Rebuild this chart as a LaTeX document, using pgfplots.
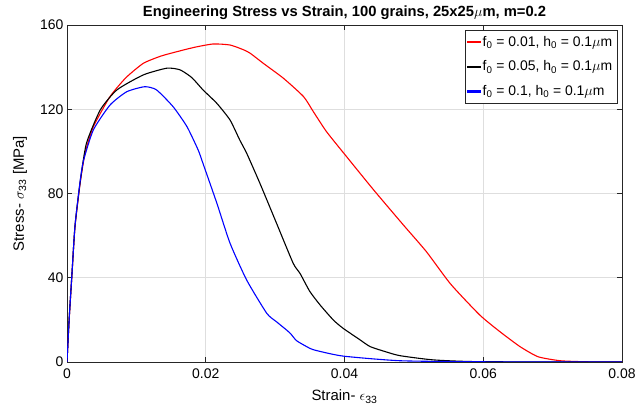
\documentclass[border=0pt]{standalone}
\usepackage{fontspec}
\setmainfont{Liberation Sans}
\usepackage{pgfplots}
\pgfplotsset{compat=1.18}
\definecolor{axgray}{gray}{0.15}
\definecolor{gridgray}{gray}{0.87}
\definecolor{mred}{rgb}{1,0,0}
\definecolor{mblue}{rgb}{0,0,1}
\begin{document}
\begin{tikzpicture}
\path[use as bounding box] (-67bp,-53bp) rectangle (568bp,362bp);
\begin{axis}[
  at={(0,0)}, anchor=south west,
  scale only axis, width=555bp, height=337bp,
  xmin=0, xmax=0.08, ymin=0, ymax=160,
  scaled x ticks=false, scaled y ticks=false,
  xtick={0,0.02,0.04,0.06,0.08},
  xticklabels={0,0.02,0.04,0.06,0.08},
  ytick={0,40,80,120,160},
  yticklabels={0,40,80,120,160},
  grid=major,
  major grid style={gridgray, line width=0.6bp},
  axis line style={axgray, line width=0.6bp},
  tick style={axgray, line width=0.6bp},
  tick align=inside, tick pos=both, major tick length=5bp,
  ticklabel style={font=\fontsize{14}{14}\selectfont, text=black},
  xticklabel style={yshift=-3bp},
  /pgf/number format/assume math mode=true,
  title={\textbf{Engineering Stress vs Strain, 100 grains, 25x25$\mu$m, m=0.2}},
  every axis title/.style={at={(axis description cs:0.5,1.037)}, anchor=center, font=\fontsize{14.8}{15}\selectfont},
  xlabel={Strain- $\epsilon$\textsubscript{33}},
  ylabel={Stress- $\sigma$\textsubscript{33} [MPa]},
  every axis x label/.style={at={(axis description cs:0.5,-0.103)}, anchor=center, font=\fontsize{15}{15}\selectfont},
  every axis y label/.style={at={(axis description cs:-0.0847,0.5)}, anchor=center, rotate=90, font=\fontsize{15}{15}\selectfont},
  legend style={at={(0.991,0.985)}, anchor=north east, draw=axgray,
    font=\fontsize{14}{14}\selectfont, inner xsep=2.5bp, inner ysep=4bp, row sep=9bp, cells={anchor=west}},
  legend image code/.code={\fill[#1] (0bp,-0.6bp) rectangle (13bp,0.6bp);},
]
\addlegendimage{color=mred}
\addlegendentry{f\textsubscript{0} = 0.01, h\textsubscript{0} = 0.1$\mu$m}
\addlegendimage{color=black}
\addlegendentry{f\textsubscript{0} = 0.05, h\textsubscript{0} = 0.1$\mu$m}
\addlegendimage{color=mblue}
\addlegendentry{f\textsubscript{0} = 0.1, h\textsubscript{0} = 0.1$\mu$m}
\addplot[color=mred, line width=1.1bp, smooth, tension=0.35, forget plot] coordinates {
(0,0) (0.00033,21) (0.00068,39.5) (0.00115,64) (0.0019,85) (0.0026,99) (0.0038,111.7)
(0.0062,126) (0.0085,135) (0.011,141.8) (0.0135,145.2) (0.0158,147.3) (0.0185,149.5)
(0.0211,151) (0.0235,150.5) (0.0254,148.3) (0.0264,146.6) (0.0283,141.8) (0.0312,134.7)
(0.0341,126) (0.0355,118.9) (0.0374,109.4) (0.0401,98.3) (0.0442,81.7) (0.0485,65)
(0.0518,52.4) (0.0553,37) (0.0595,22.3) (0.0624,14.4) (0.0653,7.3) (0.0679,2.5)
(0.0711,0.6) (0.075,0.1) (0.08,0)
};
\addplot[color=black, line width=1.1bp, smooth, tension=0.35, forget plot] coordinates {
(0,0) (0.00033,21.5) (0.00068,40) (0.00115,64.5) (0.0019,85.5) (0.0028,103.8) (0.0048,119.7)
(0.0072,129.2) (0.011,136.3) (0.0144,139.5) (0.0163,138.7) (0.018,135) (0.0196,129.2)
(0.0216,122.8) (0.0235,114.9) (0.0249,105.4) (0.0259,99.1) (0.0278,84.9) (0.0302,65.9)
(0.0326,46.9) (0.0336,42) (0.035,33.5) (0.0365,27) (0.0384,19.9) (0.0398,16)
(0.0422,10.6) (0.0437,7.3) (0.046,4.8) (0.048,3) (0.0528,1) (0.0595,0.15) (0.08,0)
};
\addplot[color=mblue, line width=1.1bp, smooth, tension=0.35, forget plot] coordinates {
(0,0) (0.00033,21.5) (0.00068,40) (0.00115,64.5) (0.0019,86) (0.0024,95.9) (0.0038,110.2)
(0.0062,122) (0.0086,128.3) (0.0112,130.7) (0.0129,129.2) (0.0153,121.2) (0.0173,111.7)
(0.0189,100.7) (0.0196,94.3) (0.0216,75.4) (0.0235,56.4) (0.0259,38.9) (0.0288,23.1)
(0.0302,19.1) (0.0321,13.9) (0.0331,10.1) (0.035,6.5) (0.036,5.4) (0.0398,2.8)
(0.048,0.6) (0.06,0.1) (0.08,0)
};
\end{axis}
\end{tikzpicture}
\end{document}
